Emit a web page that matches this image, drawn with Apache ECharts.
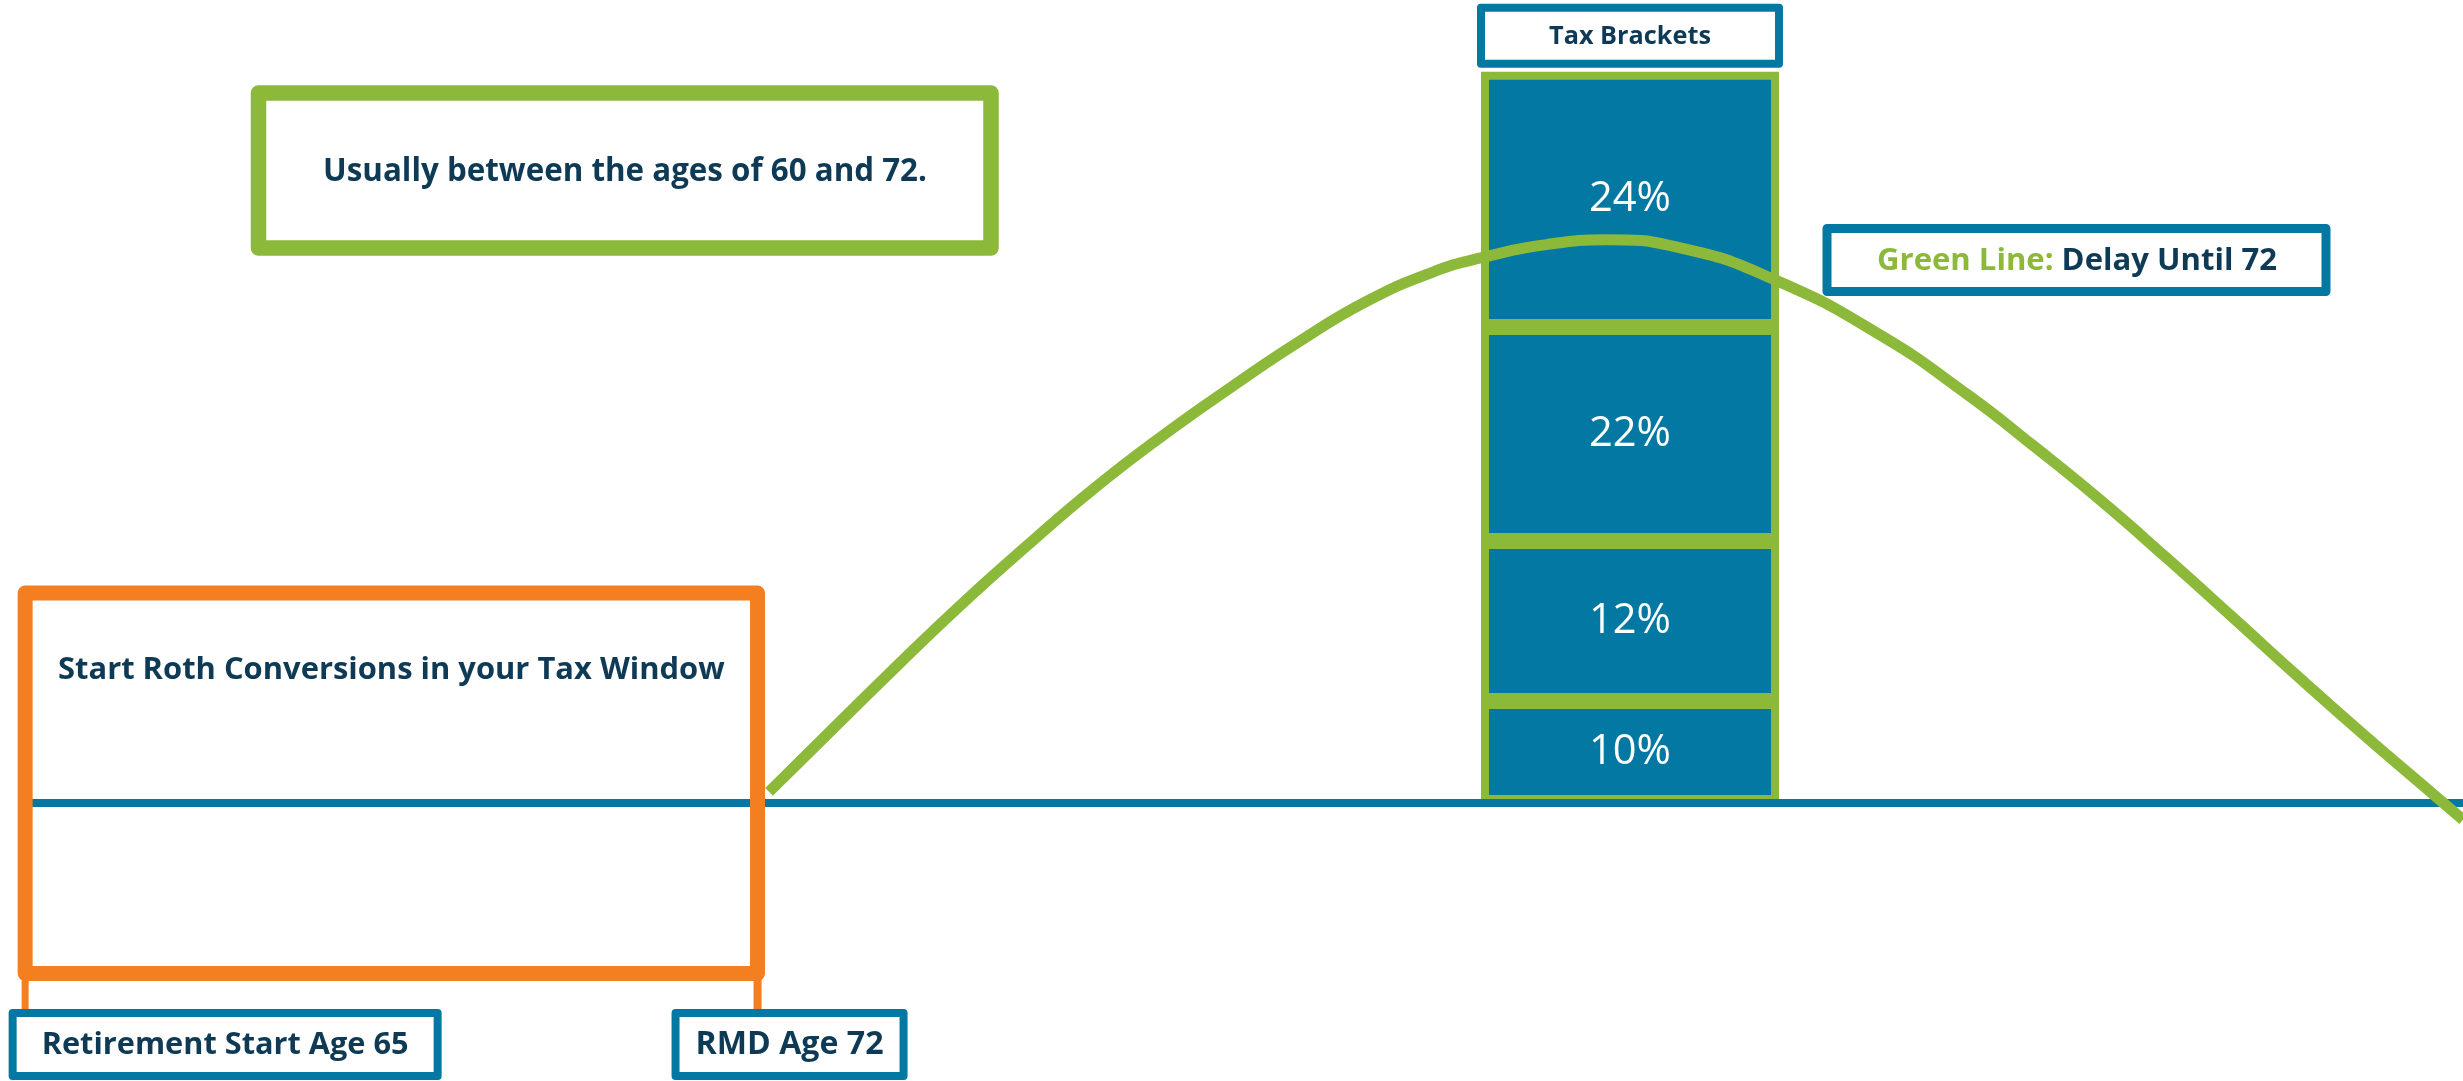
<!DOCTYPE html>
<html><head><meta charset="utf-8">
<script src="https://cdn.jsdelivr.net/npm/echarts@6/dist/echarts.min.js"></script>
<style>html,body{margin:0;padding:0;background:#fff;overflow:hidden}#c{width:2463px;height:1081px;}</style>
</head><body><div id="c"></div>
<script>
// ---------------- data ----------------
const bracketNames = ['10%', '12%', '22%', '24%'];
const bracketHeights = [12.75, 20, 26.75, 31.9];
const columnCategory = ['Tax Brackets'];
const curveAges = [72.11, 72.66, 73.29, 73.93, 74.57, 75.21, 75.87, 76.54, 77.18, 77.82, 78.46, 78.90, 79.54, 80.12, 80.82, 81.74, 82.73, 83.56, 84.19, 84.83, 85.47, 86.10, 86.74, 87.38, 87.89, 88.30];
const curveValues = [1.4, 8.5, 16.6, 24.6, 32.1, 39.25, 45.9, 52.1, 57.7, 62.7, 66.4, 68.1, 69.8, 70.4, 69.4, 65.3, 58.5, 51.1, 44.7, 37.9, 30.6, 23.2, 15.6, 8.2, 2.5, -2.1];
const retireAge = 65;
const rmdAge = 72;
const windowText = 'Start Roth Conversions in your Tax Window';
const agesText = 'Usually between the ages of 60 and 72.';
const retireText = 'Retirement Start Age 65';
const rmdText = 'RMD Age 72';
const legendKey = 'Green Line:';
const legendVal = 'Delay Until 72';

// ---------------- style ----------------
const BLUE = '#0378A3', GREEN = '#8DB93A', ORANGE = '#F47F20', NAVY = '#0E3A55';
const FONT = '"Open Sans", "Noto Sans", sans-serif';
const mctx = document.createElement('canvas').getContext('2d');
function fit(text, weight, target) {
  mctx.font = weight + ' 100px ' + FONT;
  return 100 * target / mctx.measureText(text).width;
}

const chart = echarts.init(document.getElementById('c'), null, { renderer: 'canvas' });

const barSeries = bracketNames.map((name, i) => ({
  type: 'bar', name: name, stack: 'tax', barWidth: 298, z: 2, silent: true,
  xAxisIndex: 1, yAxisIndex: 1,
  data: [bracketHeights[i]],
  itemStyle: { color: BLUE, borderColor: GREEN, borderWidth: 8 },
  label: {
    show: true, position: 'inside', formatter: name, color: '#ffffff',
    textBorderWidth: 0, fontFamily: FONT, fontWeight: 'normal',
    fontSize: fit('24%', 'normal', 82)
  }
}));

chart.setOption({
  animation: false,
  grid: [
    { left: 22, right: 0, top: 3, bottom: 6 },
    { left: 1477, width: 306, top: 3, bottom: 6 }
  ],
  xAxis: [{
    type: 'value', min: 64.97, max: 88.3, z: 3, gridIndex: 0,
    axisLine: { show: true, onZero: true, lineStyle: { color: BLUE, width: 8 } },
    axisTick: { show: false }, axisLabel: { show: false }, splitLine: { show: false }
  }, {
    type: 'category', gridIndex: 1, data: columnCategory, show: false
  }],
  yAxis: [
    { type: 'value', min: -34, max: 100, show: false, gridIndex: 0, splitLine: { show: false } },
    { type: 'value', min: -34, max: 100, show: false, gridIndex: 1, splitLine: { show: false } }
  ],
  series: barSeries.concat([{
    type: 'line', name: legendVal, z: 4, silent: true, clip: false,
    xAxisIndex: 0, yAxisIndex: 0,
    data: curveAges.map((a, i) => [a, curveValues[i]]),
    smooth: 0.5, showSymbol: false, symbol: 'none',
    lineStyle: { color: GREEN, width: 11, cap: 'butt' }
  }])
});

// ---------------- annotations ----------------
const px = a => chart.convertToPixel({ xAxisIndex: 0 }, a);
const x65 = px(retireAge), x72 = px(rmdAge);
const bx = chart.convertToPixel({ xAxisIndex: 1 }, columnCategory[0]);
const colTop = chart.convertToPixel({ yAxisIndex: 1 }, bracketHeights.reduce((s, v) => s + v, 0));

function box(x1, y1, x2, y2, color, lw, fill) {
  return { type: 'rect', z: 100, silent: true,
    shape: { x: x1, y: y1, width: x2 - x1, height: y2 - y1 },
    style: { fill: fill || 'none', stroke: color, lineWidth: lw, lineJoin: 'round' } };
}
function label(text, cx, cy, target) {
  return { type: 'text', z: 101, silent: true,
    style: { text: text, x: cx, y: cy, align: 'center', verticalAlign: 'middle',
      fill: NAVY, fontFamily: FONT, fontWeight: 'bold', fontSize: fit(text, 'bold', target) } };
}
function leg(x, y1, y2, lw) {
  return { type: 'line', z: 99, silent: true, shape: { x1: x, y1: y1, x2: x, y2: y2 },
    style: { stroke: ORANGE, lineWidth: lw } };
}
const legendSize = fit(legendKey + ' ' + legendVal, 'bold', 400);

chart.setOption({
  graphic: [
    // orange tax-window box
    box(x65, 593, x72, 973.5, ORANGE, 15),
    label(windowText, (x65 + x72) / 2, 670, 667),
    leg(x65, 973, 1013, 7),
    leg(x72, 973, 1013, 8),
    // age labels
    box(x65 - 12.5, 1013, x65 + 412.5, 1076, BLUE, 8, '#ffffff'),
    label(retireText, x65 + 200, 1045, 367),
    box(x72 - 82, 1013, x72 + 146, 1076, BLUE, 8, '#ffffff'),
    label(rmdText, x72 + 32, 1045, 188),
    // green note box
    box(258.5, 93, 991, 248, GREEN, 15.5, '#ffffff'),
    label(agesText, 625, 172, 604),
    // tax brackets header
    box(bx - 149, colTop - 64, bx + 149, colTop - 8, BLUE, 8, '#ffffff'),
    label(columnCategory[0], bx, colTop - 35, 162),
    // green line legend box
    box(1827, 228.5, 2326, 291.5, BLUE, 9, '#ffffff'),
    { type: 'text', z: 101, silent: true,
      style: { text: '{g|' + legendKey + '} {n|' + legendVal + '}', x: 2077, y: 261,
        align: 'center', verticalAlign: 'middle', fill: NAVY,
        fontFamily: FONT, fontWeight: 'bold', fontSize: legendSize,
        rich: {
          g: { fill: GREEN, fontFamily: FONT, fontWeight: 'bold', fontSize: legendSize },
          n: { fill: NAVY, fontFamily: FONT, fontWeight: 'bold', fontSize: legendSize }
        } } }
  ]
});
</script>
</body></html>
